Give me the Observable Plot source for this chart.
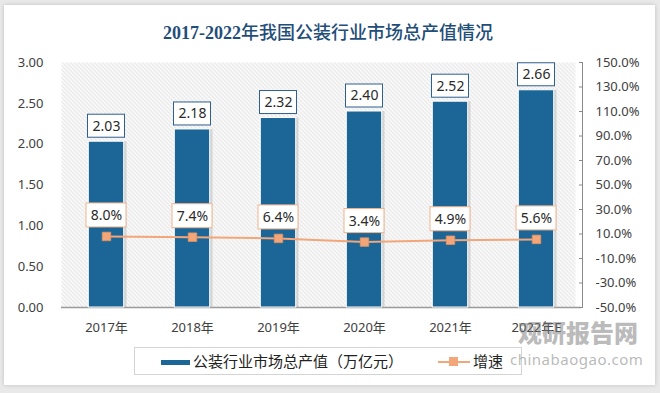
<!DOCTYPE html>
<html>
<head>
<meta charset="utf-8">
<script src="https://cdn.jsdelivr.net/npm/d3@7"></script>
<script src="https://cdn.jsdelivr.net/npm/@observablehq/plot@0.6"></script>
<style>
  html, body { margin: 0; padding: 0; }
  body { width: 660px; height: 393px; background: #e9e9e9; position: relative; overflow: hidden;
         font-family: "Noto Sans", "Noto Sans CJK SC", sans-serif; }
  #card { position: absolute; left: 4px; top: 5px; width: 651px; height: 380px; background: #fff;
          box-shadow: 0 0 4px rgba(0,0,0,0.18); }
  #chart { position: absolute; left: 0; top: 0; }
  #title { position: absolute; left: 0; width: 656px; top: 19px; text-align: center; font-size: 18px;
           line-height: 24px; color: #1f4e79; white-space: nowrap; }
  #title .num { font-family: "Liberation Serif", serif; font-weight: bold; }
  #title .cjk { font-family: "Noto Sans CJK SC", sans-serif; font-weight: 500; }
  #legend { position: absolute; left: 134px; top: 347px; width: 388px; height: 28px; background: #fff;
            border: 1px solid #d4d4d4; box-sizing: border-box; font-family: "Noto Sans CJK SC", sans-serif;
            font-size: 15px; color: #222; }
  .sw { position: absolute; }
  .lt { position: absolute; top: 2px; line-height: 22px; white-space: nowrap; }
  #wm1 { position: absolute; left: 518px; top: 322px; font-family: "Noto Sans CJK SC", sans-serif; font-weight: 900;
         font-size: 24px; line-height: 20px; height: 20px; color: rgba(120,120,120,0.5); white-space: nowrap; }
  #wm2 { position: absolute; left: 510px; top: 353px; font-family: "Noto Sans", sans-serif; font-size: 15px;
         line-height: 13px; height: 13px; color: rgba(125,125,125,0.55); letter-spacing: 0.5px; white-space: nowrap; }
</style>
</head>
<body>
<div id="card"></div>
<svg width="0" height="0" style="position:absolute">
  <defs>
    <pattern id="hatch" patternUnits="userSpaceOnUse" width="4" height="4">
      <path d="M0,0 L4,4 M-1,3 L1,5 M3,-1 L5,1" stroke="#dedede" stroke-width="1.1"/>
    </pattern>
  </defs>
</svg>
<div id="chart"></div>
<div id="title"><span class="num">2017-2022</span><span class="cjk">年我国公装行业市场总产值情况</span></div>
<div id="legend">
  <div class="sw" style="left:26px; top:12px; width:29px; height:5px; background:#1b6597;"></div>
  <div class="lt" style="left:58px;">公装行业市场总产值（万亿元）</div>
  <div class="sw" style="left:303px; top:13px; width:32px; height:2px; background:#f2a679;"></div>
  <div class="sw" style="left:314px; top:9px; width:9px; height:9px; background:#f2a679;"></div>
  <div class="lt" style="left:338px;">增速</div>
</div>
<div id="wm1">观研报告网</div>
<div id="wm2">chinabaogao.com</div>
<script>
const years = ["2017年", "2018年", "2019年", "2020年", "2021年", "2022年E"];
const outputValue = [2.03, 2.18, 2.32, 2.40, 2.52, 2.66];
const growthRate = [8.0, 7.4, 6.4, 3.4, 4.9, 5.6];
const leftTicks = [0, 0.5, 1.0, 1.5, 2.0, 2.5, 3.0];
const rightTicks = [-50, -30, -10, 10, 30, 50, 70, 90, 110, 130, 150];

// right axis (-50%..150%) mapped onto the left axis (0..3)
const pctToY = p => (p + 50) * 3 / 200;
const yToPct = y => y * 200 / 3 - 50;

const data = years.map((year, i) => ({year, v: outputValue[i], g: growthRate[i]}));

const blue = "#1b6597";
const orange = "#f2a679";

const chart = Plot.plot({
  width: 660,
  height: 393,
  marginTop: 62,
  marginBottom: 86,
  marginLeft: 61,
  marginRight: 79,
  style: {background: "transparent", fontFamily: "'Noto Sans', 'Noto Sans CJK SC', sans-serif", fontSize: "13px", color: "#404040"},
  x: {domain: years, paddingInner: 0, paddingOuter: 0, label: null},
  y: {domain: [0, 3], label: null},
  marks: [
    Plot.frame({fill: "url(#hatch)", stroke: "none", insetRight: 6}),
    Plot.ruleY([0], {stroke: "#9a9a9a", strokeWidth: 1.5}),
    // bar shadow
    Plot.barY(data, {x: "year", y: "v", fill: "#9a9a9a", fillOpacity: 0.35, insetLeft: 24, insetRight: 24, dx: 1.5}),
    Plot.barY(data, {x: "year", y: "v", fill: blue, stroke: "#fff", strokeWidth: 1, insetLeft: 25.3, insetRight: 25.3}),
    // value label boxes
    Plot.barY(data, {x: "year", y1: "v", y2: "v", insetTop: -27, insetBottom: 4, insetLeft: 24.5, insetRight: 24.5,
      fill: "#fff", stroke: "#2e5f8f", strokeWidth: 1}),
    Plot.text(data, {x: "year", y: "v", text: d => d.v.toFixed(2), dy: -15.5, fontSize: 14, fill: "#2a2a2a"}),
    // growth line
    Plot.line(data, {x: "year", y: d => pctToY(d.g), stroke: orange, strokeWidth: 2}),
    Plot.dot(data, {x: "year", y: d => pctToY(d.g), symbol: "square", r: 4.8, fill: orange, stroke: "#e39262", strokeWidth: 0.8}),
    Plot.barY(data, {x: "year", y1: d => pctToY(d.g), y2: d => pctToY(d.g), insetTop: -33, insetBottom: 9, insetLeft: 23, insetRight: 23,
      fill: "#fff", stroke: "#efb48d", strokeWidth: 1}),
    Plot.text(data, {x: "year", y: d => pctToY(d.g), text: d => d.g.toFixed(1) + "%", dy: -21, fontSize: 14, fill: "#2a2a2a"}),
    // axes
    Plot.axisY({anchor: "left", ticks: leftTicks, tickFormat: d => d.toFixed(2), tickSize: 0, tickPadding: 18, fontSize: 13, label: null}),
    Plot.axisY({anchor: "right", ticks: rightTicks.map(pctToY), tickFormat: d => yToPct(d).toFixed(1) + "%", tickSize: 0, tickPadding: 14, fontSize: 13, label: null}),
    Plot.ruleY(rightTicks, {y: pctToY, insetLeft: 517, dx: 1, stroke: "#8a8a8a"}),
    Plot.frame({anchor: "right", stroke: "#8a8a8a", dx: 1}),
    Plot.axisX({tickSize: 0, tickPadding: 15, fontSize: 13, label: null})
  ]
});
document.getElementById("chart").appendChild(chart);
</script>
</body>
</html>
